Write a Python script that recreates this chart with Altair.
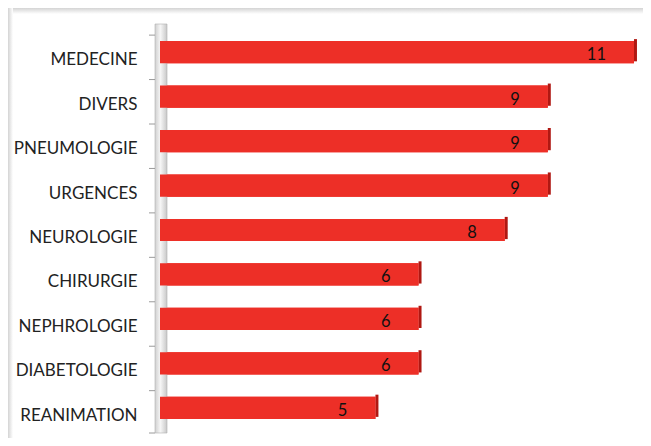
import altair as alt
import pandas as pd

categories = ["MEDECINE", "DIVERS", "PNEUMOLOGIE", "URGENCES", "NEUROLOGIE",
              "CHIRURGIE", "NEPHROLOGIE", "DIABETOLOGIE", "REANIMATION"]
values = [11, 9, 9, 9, 8, 6, 6, 6, 5]

df = pd.DataFrame({"cat": categories, "val": values})

FONT = "Lato"
yscale = alt.Scale(domain=categories, paddingInner=0.5, paddingOuter=0.25)
xscale = alt.Scale(domain=[0, 11.14], nice=False, zero=True)
yaxis = alt.Axis(title=None, domain=False, ticks=False, labelPadding=23,
                 labelOffset=8,
                 labelFont=FONT, labelFontSize=17, labelColor="#222222",
                 labelFontWeight="normal")

base = alt.Chart(df)

# frame shadow strips
shadow_top = alt.Chart(alt.Data(values=[{}])).mark_rect(
    fill=alt.Gradient(gradient="linear", x1=0, y1=0, x2=0, y2=1,
                      stops=[alt.GradientStop(color="#d4d4d4", offset=0),
                             alt.GradientStop(color="#ffffff", offset=1)])
).encode(x=alt.value(-152), x2=alt.value(483), y=alt.value(-22), y2=alt.value(-16))

shadow_left = alt.Chart(alt.Data(values=[{}])).mark_rect(
    fill=alt.Gradient(gradient="linear", x1=0, y1=0, x2=1, y2=0,
                      stops=[alt.GradientStop(color="#d4d4d4", offset=0),
                             alt.GradientStop(color="#ffffff", offset=1)])
).encode(x=alt.value(-152), x2=alt.value(-147), y=alt.value(-22), y2=alt.value(408))

# 3D side wall
wall = alt.Chart(alt.Data(values=[{}])).mark_rect(
    fill=alt.Gradient(gradient="linear", x1=0, y1=0, x2=1, y2=0,
                      stops=[alt.GradientStop(color="#d0d0d0", offset=0),
                             alt.GradientStop(color="#f6f6f6", offset=0.45),
                             alt.GradientStop(color="#c8c8c8", offset=1)]),
    stroke="#b0b0b0", strokeWidth=0.6
).encode(x=alt.value(-5), x2=alt.value(7), y=alt.value(-6), y2=alt.value(403))

bars = base.mark_bar(color="#ED2F27").encode(
    x=alt.X("val:Q", scale=xscale, axis=None),
    y=alt.Y("cat:N", scale=yscale, sort=None, axis=yaxis)
)

ticks = base.mark_rule(color="#9a9a9a", strokeWidth=1).encode(
    y=alt.Y("cat:N", scale=yscale, sort=None, bandPosition=0, axis=yaxis),
    yOffset=alt.value(-6),
    x=alt.value(-11), x2=alt.value(-5)
)
tick_bottom = alt.Chart(alt.Data(values=[{}])).mark_rule(color="#9a9a9a").encode(
    x=alt.value(-11), x2=alt.value(-5), y=alt.value(403)
)

side = base.mark_rect(color="#B01812", x2Offset=3, yOffset=-2, y2Offset=-2).encode(
    x=alt.X("val:Q", scale=xscale, axis=None),
    x2="val:Q",
    y=alt.Y("cat:N", scale=yscale, sort=None, axis=yaxis)
)

labels = base.mark_text(align="right", baseline="middle", dx=-28, dy=3,
                        font=FONT, fontSize=16.5, color="#111111").encode(
    x=alt.X("val:Q", scale=xscale, axis=None),
    y=alt.Y("cat:N", scale=yscale, sort=None, axis=yaxis),
    text="val:Q"
)

chart = alt.layer(bars, shadow_top, shadow_left, wall, ticks, tick_bottom, side, bars, labels).properties(
    width=480, height=400,
    padding={"left": 152, "top": 22, "right": 3, "bottom": 8},
    autosize=alt.AutoSizeParams(type="none"),
    background="white"
).configure_view(stroke=None)

chart.save("out.html", embed_options={"renderer": "svg", "actions": False})
